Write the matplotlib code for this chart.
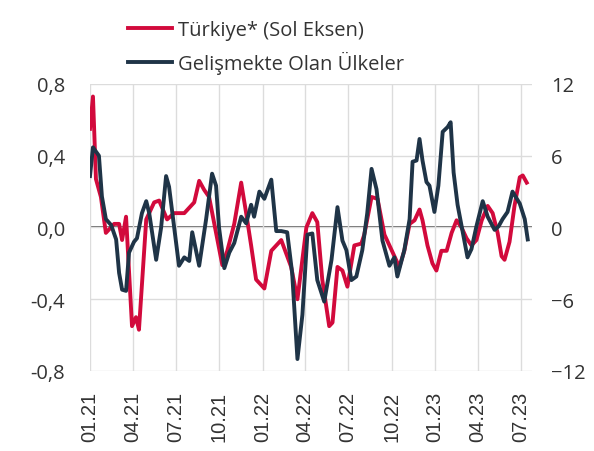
import numpy as np
import pandas as pd
from matplotlib import pyplot as plt
import matplotlib.dates as mdates
from matplotlib.ticker import FuncFormatter

# weeks since 01.01.2021 and values
tr_weeks = [0.0, 0.9, 1.8, 3.3, 4.8, 7.3, 8.8, 9.7, 10.9, 12.7, 13.9, 14.8, 17.0, 19.4,
            20.9, 23.3, 25.4, 28.5, 31.5, 33.0, 34.5, 36.0, 40.0, 41.5, 43.6, 45.7, 47.2,
            48.7, 50.2, 52.7, 54.8, 57.8, 60.8, 62.7, 65.4, 67.2, 68.7, 70.2, 72.3, 73.3,
            74.8, 76.3, 77.8, 79.9, 82.0, 82.9, 85.1, 86.9, 89.0, 90.5, 92.0, 93.5, 95.0,
            96.6, 98.1, 99.6, 100.5, 102.0, 103.5, 104.7, 106.2, 107.8, 109.3, 110.8,
            112.3, 113.8, 115.3, 116.8, 118.4, 120.2, 121.7, 123.2, 124.4, 125.3, 126.8,
            128.3, 129.9, 130.8, 132.0]
tr_vals = [0.55, 0.73, 0.27, 0.17, -0.03, 0.02, 0.02, -0.07, 0.06, -0.55, -0.50, -0.57,
           0.045, 0.14, 0.15, 0.045, 0.08, 0.08, 0.14, 0.26, 0.21, 0.17, -0.21, -0.13,
           0.02, 0.25, 0.08, -0.10, -0.29, -0.34, -0.13, -0.07, -0.22, -0.40, 0.0, 0.08,
           0.03, -0.29, -0.55, -0.53, -0.22, -0.24, -0.33, -0.10, -0.09, -0.04, 0.17,
           0.16, -0.04, -0.10, -0.16, -0.22, -0.13, 0.02, 0.04, 0.10, 0.04, -0.10, -0.20,
           -0.24, -0.13, -0.13, -0.03, 0.04, 0.0, -0.06, -0.10, -0.07, 0.04, 0.12, 0.08,
           -0.03, -0.16, -0.18, -0.08, 0.12, 0.28, 0.29, 0.25]

em_weeks = [0.0, 0.9, 2.7, 3.6, 4.8, 6.4, 7.9, 8.8, 9.7, 10.9, 11.8, 13.3, 14.2, 15.7,
            17.0, 17.9, 20.0, 21.5, 23.0, 23.9, 25.4, 26.9, 28.5, 30.0, 30.9, 33.0, 35.1,
            36.9, 38.1, 39.0, 40.6, 42.1, 43.6, 45.7, 47.2, 48.7, 49.6, 51.2, 52.7, 54.8,
            56.3, 57.8, 59.6, 61.1, 62.7, 64.2, 65.7, 67.2, 68.7, 70.8, 73.0, 74.8, 76.3,
            77.5, 79.0, 80.5, 82.3, 83.8, 85.1, 86.6, 88.4, 90.5, 92.0, 92.9, 95.0, 96.6,
            97.5, 98.7, 99.6, 100.5, 101.7, 102.6, 104.1, 105.3, 106.6, 108.1, 109.0,
            109.9, 111.1, 112.6, 114.1, 115.3, 116.8, 118.7, 120.2, 122.3, 123.5, 124.7,
            126.2, 127.7, 129.9, 131.4, 132.3]
em_vals = [4.3, 6.7, 6.0, 2.6, 0.7, 0.2, -1.0, -3.8, -5.2, -5.3, -2.1, -1.2, -0.9, 1.2,
           2.2, 1.2, -2.7, 0.0, 4.3, 3.4, 0.1, -3.2, -2.5, -2.8, -0.4, -3.2, 0.7, 4.5,
           3.5, 0.0, -3.4, -2.1, -1.3, 0.9, 0.35, 1.9, 0.9, 3.0, 2.4, 4.0, -0.3, -0.3,
           -0.4, -3.8, -11.0, -7.3, -0.6, -0.5, -4.4, -6.2, -2.7, 1.7, -1.1, -1.9, -4.4,
           -4.1, -1.9, 1.2, 4.9, 3.2, -1.1, -3.2, -2.5, -4.1, -1.9, 0.7, 5.5, 5.6, 7.4,
           5.6, 3.8, 3.5, 1.3, 3.5, 8.0, 8.4, 8.8, 4.6, 1.9, -0.3, -2.5, -1.8, 0.1, 2.2,
           0.9, -0.2, 0.1, 0.7, 1.3, 3.0, 2.0, 0.7, -1.0]

tr_label = 'Türkiye* (Sol Eksen)'
em_label = 'Gelişmekte Olan Ülkeler'
left_ticks = [-0.8, -0.4, 0.0, 0.4, 0.8]
right_ticks = [-12, -6, 0, 6, 12]

start = pd.Timestamp('2021-01-01')
tr_dates = start + pd.to_timedelta(np.array(tr_weeks) * 7, unit='D')
em_dates = start + pd.to_timedelta(np.array(em_weeks) * 7, unit='D')
qticks = pd.date_range('2021-01-01', '2023-07-01', freq='QS')

red = '#D20A3C'
navy = '#1F3447'
txt = '#333333'

fig = plt.figure(figsize=(5.94, 4.52), dpi=100)
ax = fig.add_axes([0.1515, 0.177, 0.744, 0.635])
ax2 = ax.twinx()

ax.plot(tr_dates, tr_vals, color=red, lw=2.8, solid_joinstyle='round', label=tr_label)
ax2.plot(em_dates, em_vals, color=navy, lw=2.8, solid_joinstyle='round', label=em_label)
ax.axhline(0, color='#5a5a5a', lw=1.3, zorder=1.5)

ax.set_xlim(start, pd.Timestamp('2023-07-25'))
ax.set_ylim(-0.8, 0.8)
ax2.set_ylim(-12, 12)

ax.set_xticks(qticks)
ax.xaxis.set_major_formatter(mdates.DateFormatter('%m.%y'))
ax.set_yticks(left_ticks)
ax.yaxis.set_major_formatter(FuncFormatter(lambda v, p: f'{v:.1f}'.replace('.', ',').replace('-0,0', '0,0')))
ax2.set_yticks(right_ticks)

ax.grid(True, color='#dcdcdc', lw=1)
for a in (ax, ax2):
    for s in a.spines.values():
        s.set_visible(False)

ax.tick_params(axis='x', length=0, pad=14, rotation=90, labelsize=14.5, labelcolor=txt)
ax.tick_params(axis='y', length=0, pad=18, labelsize=14.5, labelcolor=txt)
ax2.tick_params(axis='y', length=0, pad=14, labelsize=14.5, labelcolor=txt)
for lab in ax.get_xticklabels():
    lab.set_fontfamily('Liberation Sans')
for lab in ax.get_yticklabels() + ax2.get_yticklabels():
    lab.set_fontfamily('Open Sans')

h1, l1 = ax.get_legend_handles_labels()
h2, l2 = ax2.get_legend_handles_labels()
fig.legend(h1 + h2, l1 + l2, loc='center', bbox_to_anchor=(266 / 594, 1 - 48 / 452),
           frameon=False, prop={'family': 'Open Sans', 'size': 14.5}, labelcolor=txt,
           handlelength=2.2, handletextpad=0.3, labelspacing=0.5, borderpad=0)

fig.savefig('out.png', dpi=100)
